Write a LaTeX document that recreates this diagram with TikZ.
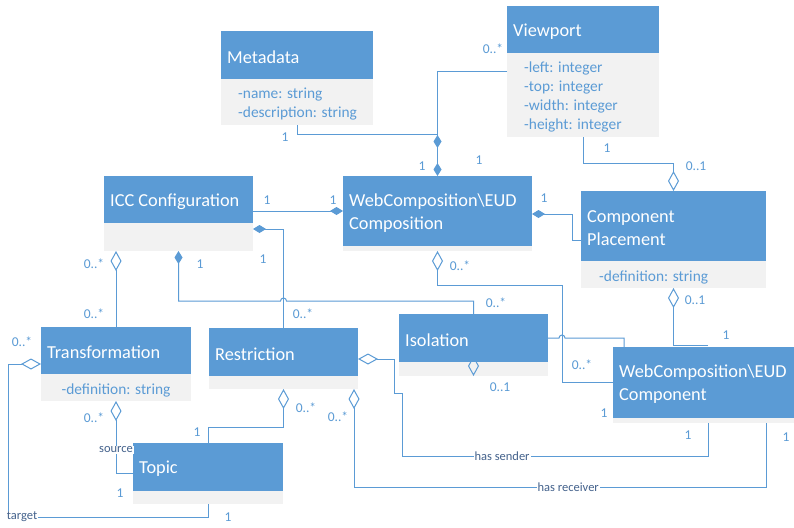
\documentclass[tikz,border=0pt]{standalone}
\usepackage{fontspec}
\setmainfont{Carlito}
\usetikzlibrary{arrows.meta,calc}
\definecolor{umlblue}{RGB}{91,155,213}
\definecolor{attrgray}{RGB}{242,242,242}
\definecolor{rolecol}{RGB}{68,98,140}

\begin{document}
\begin{tikzpicture}[x=1pt,y=1pt,
  hdr/.style={fill=umlblue, inner sep=0, outer sep=0, anchor=north west},
  attr/.style={fill=attrgray, inner sep=0, outer sep=0, anchor=north west},
  ttl/.style={text=white, font=\fontsize{18.3}{23}\selectfont, anchor=west, inner sep=0, align=left, yshift=-2},
  attrtxt/.style={text=umlblue, font=\fontsize{15.4}{19}\selectfont, anchor=west, inner sep=0, align=left, yshift=-2},
  conn/.style={draw=umlblue, line width=1pt},
  filledagg/.style={conn, -{Diamond[length=13pt,width=8pt]}},
  agg/.style={conn, -{Diamond[open,length=20pt,width=11pt]}},
  mult/.style={text=umlblue, font=\fontsize{13.5}{16}\selectfont, inner sep=0},
  role/.style={text=rolecol, font=\fontsize{12.5}{14}\selectfont, fill=white, inner sep=1pt},
]
\fill[white] (0,0) rectangle (794,-527);
\path[use as bounding box] (0,0) rectangle (794,-527);

% ---------- classes ----------
% Metadata
\node[hdr, minimum width=152, minimum height=48] (meta) at (221,-31) {};
\node[attr, minimum width=152, minimum height=46] (meta-a) at (meta.south west) {};
\node[ttl] (meta-t) at ([xshift=6]meta.west) {Metadata};
\node[attrtxt] (meta-x) at ([xshift=17]meta-a.west) {-name: string\\-description: string};

% Viewport
\node[hdr, minimum width=152, minimum height=47] (view) at (507,-6) {};
\node[attr, minimum width=152, minimum height=84] (view-a) at (view.south west) {};
\node[ttl] (view-t) at ([xshift=6]view.west) {Viewport};
\node[attrtxt] (view-x) at ([xshift=17]view-a.west) {-left: integer\\-top: integer\\-width: integer\\-height: integer};

% ICC Configuration
\node[hdr, minimum width=149, minimum height=47] (icc) at (104,-176) {};
\node[attr, minimum width=149, minimum height=28] (icc-a) at (icc.south west) {};
\node[ttl] (icc-t) at ([xshift=6]icc.west) {ICC Configuration};

% WebComposition\EUD Composition
\node[hdr, minimum width=189, minimum height=70] (comp) at (343,-176) {};
\node[attr, minimum width=189, minimum height=5] (comp-a) at (comp.south west) {};
\node[ttl] (comp-t) at ([xshift=6]comp.west) {WebComposition\textbackslash EUD\\Composition};

% Component Placement
\node[hdr, minimum width=185, minimum height=70] (place) at (581,-191) {};
\node[attr, minimum width=185, minimum height=27] (place-a) at (place.south west) {};
\node[ttl] (place-t) at ([xshift=6]place.west) {Component\\Placement};
\node[attrtxt] (place-x) at ([xshift=18,yshift=-1]place-a.west) {-definition: string};

% Transformation
\node[hdr, minimum width=150, minimum height=47] (trans) at (41,-327) {};
\node[attr, minimum width=150, minimum height=27] (trans-a) at (trans.south west) {};
\node[ttl] (trans-t) at ([xshift=6]trans.west) {Transformation};
\node[attrtxt, anchor=center] (trans-x) at ([yshift=-1]trans-a.center) {-definition: string};

% Restriction
\node[hdr, minimum width=149, minimum height=48] (restr) at (209,-328) {};
\node[attr, minimum width=149, minimum height=13] (restr-a) at (restr.south west) {};
\node[ttl] (restr-t) at ([xshift=6]restr.west) {Restriction};

% Isolation
\node[hdr, minimum width=149, minimum height=48] (iso) at (399,-314) {};
\node[attr, minimum width=149, minimum height=14] (iso-a) at (iso.south west) {};
\node[ttl] (iso-t) at ([xshift=6]iso.west) {Isolation};

% WebComposition\EUD Component
\node[hdr, minimum width=181, minimum height=71] (cmp) at (613,-347) {};
\node[attr, minimum width=181, minimum height=5] (cmp-a) at (cmp.south west) {};
\node[ttl] (cmp-t) at ([xshift=6]cmp.west) {WebComposition\textbackslash EUD\\Component};

% Topic
\node[hdr, minimum width=150, minimum height=48] (topic) at (133,-443) {};
\node[attr, minimum width=150, minimum height=13] (topic-a) at (topic.south west) {};
\node[ttl] (topic-t) at ([xshift=6]topic.west) {Topic};

% ---------- associations ----------
% Viewport and Metadata owned by the composition
\draw[filledagg] ([yshift=-18]view-a.north west) -| (comp.north);
\draw[filledagg] (meta-a.south) -- ++(0,-9) -| ([yshift=28]comp.north);

% ICC Configuration -- composition
\draw[filledagg] (icc.east |- comp.west) -- (comp.west);

% Component Placement owned by the composition
\draw[filledagg] ([yshift=-14]place.west) -- ++(-9,0) |- ([yshift=-3]comp.east);

% Viewport -- Component Placement
\draw[agg] (view-a.south) -- ++(0,-26) -| (place.north);

% Restriction owned by ICC Configuration
\draw[filledagg] (restr.north) |- ([yshift=8]icc-a.east);

% Isolation owned by ICC Configuration (hops over the restriction line)
\path (iso.north) ++(0,13) coordinate (r5);
\coordinate (h1) at (restr.north |- r5);
\draw[filledagg] (iso.north) -- (r5) -- ($(h1)+(3,0)$)
  arc[start angle=0, end angle=180, radius=3] -| (icc-a.south);

% Transformation -- ICC Configuration
\draw[agg] (trans.north) -- (trans.north |- icc-a.south);

% Component -- composition
\coordinate (j7) at ($(cmp.west)+(-51,0)$);
\draw[agg] (cmp.west) -- (j7) |- ([yshift=-34]comp-a.south) -- (comp-a.south);

% Component -- Isolation (hops over the line above)
\coordinate (h2) at (j7 |- iso.center);
\draw[agg] ([xshift=11]cmp.north west) |- ($(h2)+(3,0)$)
  arc[start angle=0, end angle=180, radius=3] -- (iso.center) -- (iso-a.south);

% Component -- Component Placement
\draw[agg] ([xshift=95,yshift=2]cmp.north west) -| (place-a.south);

% Restriction: has sender
\draw[agg] ([xshift=95]cmp-a.south west) -- ++(0,-33)
  -- ++(-306,0) node[role, pos=0.673] (sender) {has sender}
  -- ++(0,63) -- ++(-8,0) |- ([yshift=-7]restr.east);

% Restriction: has receiver
\coordinate (rcv) at ([xshift=-4]restr-a.south east);
\draw[agg] ([xshift=-28]cmp-a.south east) -- ++(0,-64) coordinate (rr)
  -- (rr -| rcv) node[role, pos=0.48] (receiver) {has receiver} -- (rcv);

% Topic -- Restriction
\draw[agg] (topic.north) -- ++(0,16) -| (restr-a.south);

% Topic as source of a transformation
\draw[agg] ([yshift=-6]topic.west) -| node[role, pos=0.66] (source) {source} (trans-a.south);

% Topic as target of a transformation
\draw[agg] (topic-a.south) -- ++(0,-13)
  -- ++(-200,0) node[role, pos=0.93] (target) {target}
  |- ([yshift=-13.5]trans.west);

% ---------- multiplicities ----------
\node[mult] (m01) at (285,-137) {1};
\node[mult] (m02) at (422,-166) {1};
\node[mult] (m03) at (479,-160) {1};
\node[mult] (m04) at (493,-49) {0..*};
\node[mult] (m05) at (607,-148) {1};
\node[mult] (m06) at (696,-166) {0..1};
\node[mult] (m07) at (267,-200) {1};
\node[mult] (m08) at (333,-200) {1};
\node[mult] (m09) at (544,-198) {1};
\node[mult] (m10) at (263,-259) {1};
\node[mult] (m11) at (303,-314) {0..*};
\node[mult] (m12) at (200,-264) {1};
\node[mult] (m13) at (496,-303) {0..*};
\node[mult] (m14) at (94,-264) {0..*};
\node[mult] (m15) at (94,-314) {0..*};
\node[mult] (m16) at (460,-266) {0..*};
\node[mult] (m17) at (582,-365) {0..*};
\node[mult] (m18) at (500,-387) {0..1};
\node[mult] (m19) at (604,-413) {1};
\node[mult] (m20) at (695,-300) {0..1};
\node[mult] (m21) at (726,-335) {1};
\node[mult] (m22) at (688,-435) {1};
\node[mult] (m23) at (338,-417) {0..*};
\node[mult] (m24) at (786,-437) {1};
\node[mult] (m25) at (306,-408) {0..*};
\node[mult] (m26) at (197,-432) {1};
\node[mult] (m27) at (94,-418) {0..*};
\node[mult] (m28) at (120,-493) {1};
\node[mult] (m29) at (22,-342) {0..*};
\node[mult] (m30) at (228,-517) {1};
\end{tikzpicture}
\end{document}
